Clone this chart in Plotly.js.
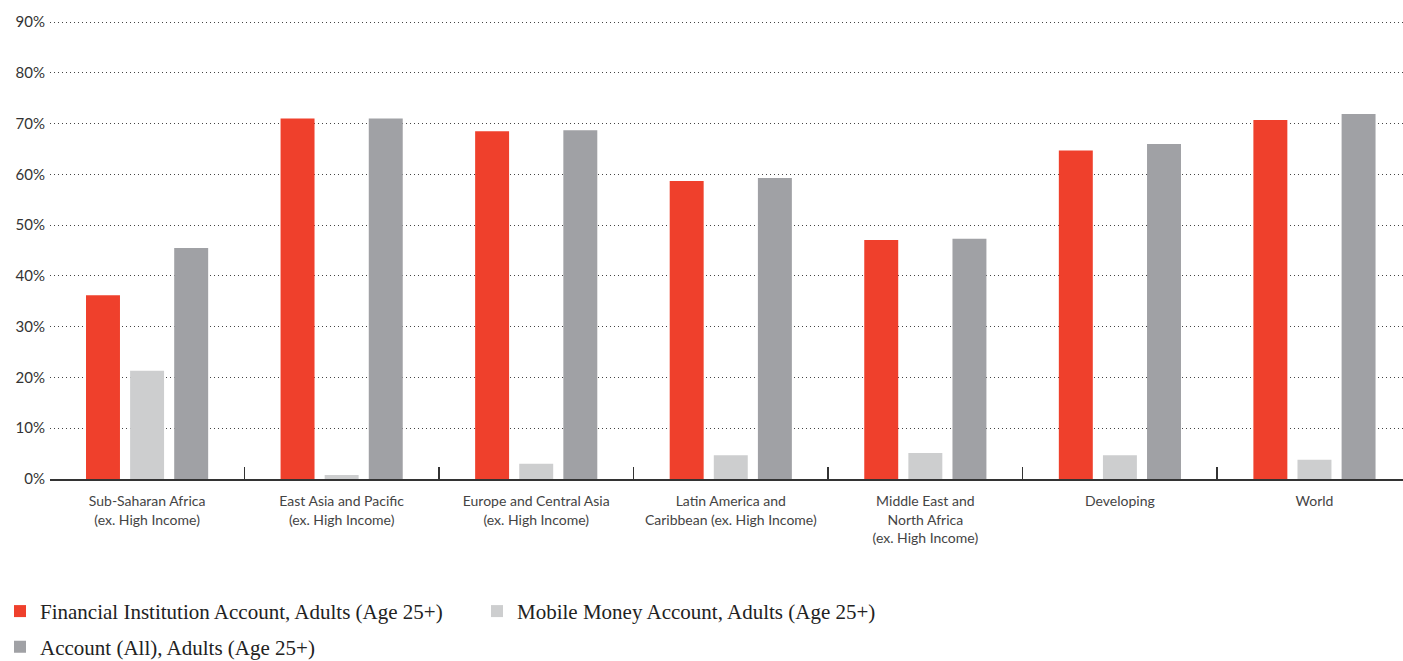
<!DOCTYPE html>
<html>
<head>
<meta charset="utf-8">
<script src="https://cdn.plot.ly/plotly-3.0.1.min.js"></script>
<style>html,body{margin:0;padding:0;background:#fff;}#chart{width:1403px;height:661px;}</style>
</head>
<body>
<div id="chart"></div>
<script>
const categories = [
  "Sub-Saharan Africa<br>(ex. High Income)",
  "East Asia and Pacific<br>(ex. High Income)",
  "Europe and Central Asia<br>(ex. High Income)",
  "Latin America and<br>Caribbean (ex. High Income)",
  "Middle East and<br>North Africa<br>(ex. High Income)",
  "Developing",
  "World"
];
const financialInstitution = [36.2, 71.0, 68.5, 58.7, 47.1, 64.7, 70.7];
const mobileMoney = [21.3, 0.8, 3.0, 4.7, 5.1, 4.7, 3.8];
const accountAll = [45.5, 71.0, 68.7, 59.3, 47.3, 66.0, 71.9];
const seriesNames = [
  "Financial Institution Account, Adults (Age 25+)",
  "Mobile Money Account, Adults (Age 25+)",
  "Account (All), Adults (Age 25+)"
];
const yTickVals = [0, 10, 20, 30, 40, 50, 60, 70, 80, 90];
const yTickText = ["0%", "10%", "20%", "30%", "40%", "50%", "60%", "70%", "80%", "90%"];

const colors = ["#EF402C", "#CDCECF", "#A0A1A5"];
const traces = [
  {type: "bar", name: seriesNames[0], x: categories, y: financialInstitution, marker: {color: colors[0]}, legend: "legend"},
  {type: "bar", name: seriesNames[1], x: categories, y: mobileMoney, marker: {color: colors[1]}, legend: "legend"},
  {type: "bar", name: seriesNames[2], x: categories, y: accountAll, marker: {color: colors[2]}, legend: "legend2"}
].map(t => Object.assign(t, {hoverinfo: "x+y+name"}));

const legendFont = {family: "Liberation Serif, DejaVu Serif, serif", size: 21, color: "#222"};
const layout = {
  width: 1403, height: 661,
  margin: {l: 50, r: 0, t: 17, b: 182, autoexpand: false},
  paper_bgcolor: "#fff", plot_bgcolor: "#fff",
  barmode: "group", bargap: 0.32, bargroupgap: 0.23,
  font: {family: "Lato, Noto Sans, sans-serif", color: "#444"},
  xaxis: {
    type: "category",
    range: [-0.499, 6.455],
    tickson: "boundaries",
    ticks: "inside", ticklen: 12, tickwidth: 1.5, tickcolor: "#333",
    showline: true, linecolor: "#333", linewidth: 1.5,
    showgrid: false, zeroline: false,
    tickfont: {family: "Lato, Noto Sans, sans-serif", size: 14, color: "#444"},
    ticklabelstandoff: 9,
    automargin: false
  },
  yaxis: {
    range: [0, 91],
    tickvals: yTickVals, ticktext: yTickText,
    showgrid: true, gridcolor: "#444", griddash: "1px,3px", gridwidth: 1,
    zeroline: false, showline: false, ticks: "",
    tickfont: {family: "Lato, Noto Sans, sans-serif", size: 15, color: "#333"},
    ticklabelstandoff: 4,
    automargin: false
  },
  showlegend: true,
  legend: {
    orientation: "h", xref: "container", x: 0, xanchor: "left",
    yref: "container", y: 0.106, yanchor: "top",
    font: legendFont, entrywidth: 432, traceorder: "normal", bgcolor: "rgba(0,0,0,0)"
  },
  legend2: {
    orientation: "h", xref: "container", x: 0, xanchor: "left",
    yref: "container", y: 0.052, yanchor: "top",
    font: legendFont, bgcolor: "rgba(0,0,0,0)"
  }
};

Plotly.newPlot("chart", traces, layout, {displayModeBar: false, staticPlot: true});
</script>
</body>
</html>
